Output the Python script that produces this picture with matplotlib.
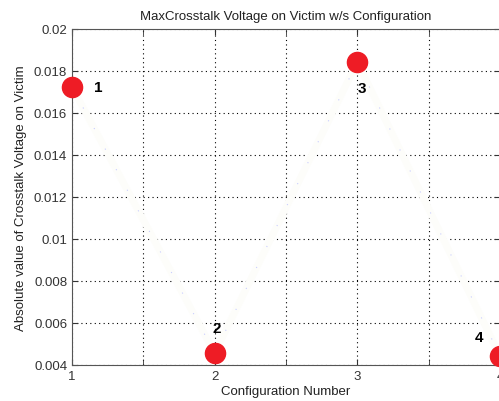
import numpy as np
import matplotlib
matplotlib.use('Agg')
from matplotlib import pyplot as plt

# crosstalk per configuration
config = [1, 2, 3, 4]
vmax = [0.01724, 0.00457, 0.01843, 0.00443]
point_labels = ['1', '2', '3', '4']
label_offsets = [(26, 0), (2, 25), (5, -26), (-21, 19)]  # in pixels

plt.rcParams['font.family'] = ['Liberation Sans', 'DejaVu Sans']

fig = plt.figure(figsize=(4.99, 4.02), dpi=100)
ax = fig.add_axes([72 / 499, 1 - 366 / 402, 1 - 72 / 499 + 0.002, (366 - 30) / 402])

ax.set_xlim(1, 4)
ax.set_ylim(0.004, 0.02)
ax.set_xticks([1, 2, 3, 4])
ax.set_xticks([1.5, 2.5, 3.5], minor=True)
ax.set_yticks(np.arange(0.004, 0.0201, 0.002))
ax.set_yticklabels(['0.004', '0.006', '0.008', '0.01', '0.012', '0.014',
                    '0.016', '0.018', '0.02'])
ax.grid(True, which='both', linestyle=(0, (1, 3)), color='black', linewidth=0.8)
ax.tick_params(which='both', direction='in', top=True, right=True,
               length=4, labelsize=9.5, colors='#333333')
ax.tick_params(which='both', labelcolor='#333333')
for s in ax.spines.values():
    s.set_color('#555555')

# faint connecting line
ax.plot(config, vmax, color='#fdfdfa', linewidth=5, zorder=3)
ax.plot(config, vmax, color='#c8ccff', linewidth=0.8, linestyle=(0, (1, 20)), zorder=3)
ax.plot(config, vmax, 'o', color='#ee1c25', markersize=14.5, zorder=5, clip_on=False)

for x, y, t, off in zip(config, vmax, point_labels, label_offsets):
    ax.annotate(t, (x, y), xytext=off, textcoords='offset pixels',
                ha='center', va='center', fontsize=11, fontweight='bold', zorder=6)

ax.set_title('MaxCrosstalk Voltage on Victim w/s Configuration', fontsize=9.5,
             color='#222222', pad=7)
ax.set_xlabel('Configuration Number', fontsize=9.5, color='#222222', labelpad=2)
ax.set_ylabel('Absolute value of Crosstalk Voltage on Victim', fontsize=9.5,
              color='#222222', labelpad=5)

fig.savefig('out.png', dpi=100)
